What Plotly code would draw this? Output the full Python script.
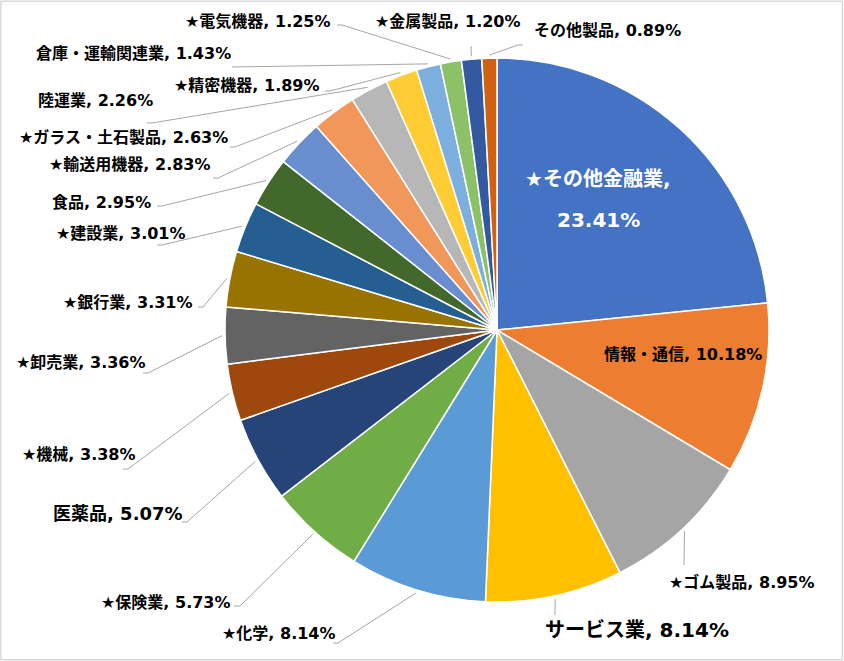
import math
import plotly.graph_objects as go

# ---- data ----
names = ["★その他金融業", "情報・通信", "★ゴム製品", "サービス業", "★化学", "★保険業", "医薬品",
         "★機械", "★卸売業", "★銀行業", "★建設業", "食品", "★輸送用機器", "★ガラス・土石製品",
         "陸運業", "★精密機器", "倉庫・運輸関連業", "★電気機器", "★金属製品", "その他製品"]
values = [23.41, 10.18, 8.95, 8.14, 8.14, 5.73, 5.07, 3.38, 3.36, 3.31, 3.01, 2.95, 2.83, 2.63,
          2.26, 1.89, 1.43, 1.25, 1.20, 0.89]
colors = ["#4472C4", "#ED7D31", "#A5A5A5", "#FFC000", "#5B9BD5", "#70AD47", "#264478",
          "#9E480E", "#636363", "#997300", "#255E91", "#43682B", "#698ED0", "#F1975A",
          "#B7B7B7", "#FFCD33", "#7CAFDD", "#8CC168", "#335AA1", "#D26012"]

# ---- layout (pixels) ----
W, H = 844, 661
CX, CY, R = 497, 330, 272

# label placement: (x, y, xanchor, font size, color)
label_pos = [
    (598, 179, "center", 20, "white"),
    (683, 354, "center", 16, "black"),
    (667, 582, "left", 16, "black"),
    (543, 630, "left", 20, "black"),
    (338, 633, "right", 16, "black"),
    (233, 602, "right", 16, "black"),
    (185, 513, "right", 18, "black"),
    (138, 455, "right", 16, "black"),
    (148, 362, "right", 16, "black"),
    (195, 302, "right", 16, "black"),
    (188, 233, "right", 16, "black"),
    (153, 202, "right", 16, "black"),
    (213, 164, "right", 16, "black"),
    (230, 137, "right", 16, "black"),
    (155, 100, "right", 16, "black"),
    (322, 86, "right", 16, "black"),
    (233, 53, "right", 16, "black"),
    (333, 22, "right", 16, "black"),
    (448, 22, "center", 16, "black"),
    (532, 30, "left", 16, "black"),
]
# leader line points after the slice point (None = no leader)
leaders = [
    None,
    None,
    [(684, 565)],
    [(555, 615)],
    [(338, 643), (333, 643)],
    [(240, 606), (234, 606)],
    [(187, 522), (182, 522)],
    [(128, 469), (123, 469)],
    [(148, 373), (143, 373)],
    [(203, 307), (198, 307)],
    [(162, 245), (157, 245)],
    [(162, 206), (157, 206)],
    [(218, 178), (213, 178)],
    [(235, 147), (230, 147)],
    [(152, 123), (147, 123)],
    [(330, 91), (325, 91)],
    [(232, 67)],
    [(342, 25), (337, 25)],
    [(471, 46)],
    [(518, 45), (523, 45)],
]


def px(x):
    return x / W


def py(y):
    return 1 - y / H


FONT = "DejaVu Sans, Noto Sans CJK JP"

fig = go.Figure(go.Pie(
    labels=names,
    values=values,
    marker=dict(colors=colors, line=dict(color="white", width=1.5)),
    sort=False,
    direction="clockwise",
    rotation=0,
    textinfo="none",
    hoverinfo="label+percent",
    showlegend=False,
    domain=dict(x=[(CX - R) / W, (CX + R) / W], y=[1 - (CY + R) / H, 1 - (CY - R) / H]),
))

annotations = []
shapes = []
total = sum(values)
cum = 0.0
for i, (n, v) in enumerate(zip(names, values)):
    mid = (cum + v / 2) / total * 2 * math.pi
    cum += v
    x, y, xa, fs, col = label_pos[i]
    if i == 0:
        annotations.append(dict(x=px(x), y=py(y), xref="paper", yref="paper", text=f"<b>{n},</b>",
                                showarrow=False, xanchor=xa, yanchor="middle",
                                font=dict(family=FONT, size=fs, color=col)))
        annotations.append(dict(x=px(x), y=py(y + 41), xref="paper", yref="paper", text=f"<b>{v:.2f}%</b>",
                                showarrow=False, xanchor=xa, yanchor="middle",
                                font=dict(family=FONT, size=fs, color=col)))
    else:
        annotations.append(dict(x=px(x), y=py(y), xref="paper", yref="paper", text=f"<b>{n}, {v:.2f}%</b>",
                                showarrow=False, xanchor=xa, yanchor="middle",
                                font=dict(family=FONT, size=fs, color=col)))
    if leaders[i]:
        sx = CX + (R + 3) * math.sin(mid)
        sy = CY - (R + 3) * math.cos(mid)
        pts = [(sx, sy)] + leaders[i]
        path = "M " + " L ".join(f"{px(a):.5f},{py(b):.5f}" for a, b in pts)
        shapes.append(dict(type="path", path=path, xref="paper", yref="paper",
                           line=dict(color="#A6A6A6", width=1)))

shapes.append(dict(type="rect", xref="paper", yref="paper", x0=0.001, y0=0.002, x1=0.998, y1=0.998,
                   line=dict(color="#D9D9D9", width=1.5)))

fig.update_layout(
    width=W, height=H,
    margin=dict(l=0, r=0, t=0, b=0),
    paper_bgcolor="white",
    plot_bgcolor="white",
    annotations=annotations,
    shapes=shapes,
    font=dict(family=FONT),
)

fig.write_html("out.html")
